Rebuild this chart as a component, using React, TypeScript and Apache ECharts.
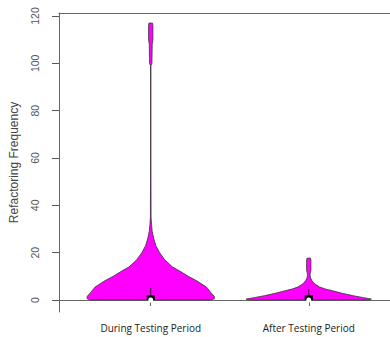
import React, { useEffect, useRef } from "react";
import * as echarts from "echarts";

const categories = ["During Testing Period", "After Testing Period"];
const yTicks = [0, 20, 40, 60, 80, 100, 120];

// violin outlines: levels (frequency) and relative half widths (density, 1 = widest)
const duringLevels = [0, 0.5, 1.5, 3, 5.5, 8, 10, 12, 14, 17, 20, 23, 26, 29, 32, 35, 60, 99, 100, 102, 108, 110, 116, 117];
const duringWidths = [0.94, 1, 1, 0.95, 0.875, 0.73, 0.59, 0.47, 0.34, 0.22, 0.14, 0.08, 0.047, 0.023, 0.0125, 0.005, 0.003, 0.003, 0.019, 0.02, 0.023, 0.034, 0.034, 0.028];
const afterLevels = [0, 0.4, 1, 1.8, 2.8, 3.8, 4.6, 5.5, 6.4, 7.2, 8.3, 9.3, 10.5, 11.5, 12.5, 17, 17.7];
const afterWidths = [0.94, 0.985, 0.86, 0.7, 0.53, 0.39, 0.265, 0.17, 0.117, 0.078, 0.047, 0.028, 0.02, 0.025, 0.034, 0.034, 0.025];

// box statistics
const q1 = [0, 0];
const medians = [0, 0];
const q3 = [2, 2];
const upperWhiskers = [5, 4.6];

const levelsList = [duringLevels, afterLevels];
const widthsList = [duringWidths, afterWidths];

export default function App() {
  const ref = useRef<HTMLDivElement>(null);
  useEffect(() => {
    if (!ref.current) return;
    const chart = echarts.init(ref.current, null, { renderer: "svg" });
    const maxHalf = 0.4025;
    const boxHalf = 0.026;
    const xMin = 0.4195;
    const xMax = 2.514;
    chart.setOption({
      animation: false,
      backgroundColor: "#ffffff",
      grid: {
        left: 57,
        top: 13,
        right: 0,
        bottom: 25,
        show: false,
      },
      xAxis: [
        {
          type: "value",
          min: xMin,
          max: xMax,
          splitLine: { show: false },
          axisLine: { show: true, lineStyle: { color: "#666", width: 1 } },
          axisTick: { show: true, customValues: [1, 2], length: 6, lineStyle: { color: "#666" } },
          axisLabel: {
            customValues: [1, 2],
            formatter: (v: number) => categories[Math.round(v) - 1] ?? "",
            fontFamily: "Open Sans",
            fontSize: 10,
            color: "#222",
            margin: 11,
          },
        },
        {
          type: "value",
          position: "top",
          min: xMin,
          max: xMax,
          splitLine: { show: false },
          axisLine: { show: true, onZero: false, lineStyle: { color: "#666", width: 1 } },
          axisTick: { show: false },
          axisLabel: { show: false },
        },
      ],
      yAxis: {
        type: "value",
        min: -5.07,
        max: 121.27,
        splitLine: { show: false },
        axisLine: { show: true, onZero: false, lineStyle: { color: "#666", width: 1 } },
        axisTick: { show: true, customValues: yTicks, length: 7, lineStyle: { color: "#555" } },
        axisLabel: {
          customValues: yTicks,
          rotate: 90,
          fontFamily: "Liberation Sans",
          fontSize: 10.5,
          color: "#555",
          margin: 19,
        },
        name: "Refactoring Frequency",
        nameLocation: "middle",
        nameRotate: 90,
        nameGap: 39,
        nameTextStyle: { fontFamily: "Liberation Sans", fontSize: 12, color: "#444" },
      },
      series: [
        {
          type: "custom",
          xAxisIndex: 0,
          data: categories.map((_, i) => [i + 1, medians[i]]),
          encode: { x: 0, y: 1 },
          clip: false,
          renderItem: (params: any, api: any) => {
            const i = params.dataIndex;
            const c = i + 1;
            const lv = levelsList[i];
            const wd = widthsList[i];
            const left: number[][] = [];
            const right: number[][] = [];
            for (let k = 0; k < lv.length; k++) {
              left.push(api.coord([c - wd[k] * maxHalf, lv[k]]));
              right.push(api.coord([c + wd[k] * maxHalf, lv[k]]));
            }
            const pts = left.concat(right.reverse());
            const bTop = api.coord([c - boxHalf, q3[i]]);
            const bBot = api.coord([c + boxHalf, q1[i]]);
            const wTop = api.coord([c, upperWhiskers[i]]);
            const med = api.coord([c, medians[i]]);
            return {
              type: "group",
              children: [
                {
                  type: "polygon",
                  shape: { points: pts },
                  style: { fill: "#ff00ff", stroke: "#333", lineWidth: 0.8 },
                },
                {
                  type: "line",
                  shape: { x1: wTop[0], y1: wTop[1], x2: wTop[0], y2: bTop[1] },
                  style: { stroke: "#222", lineWidth: 1 },
                },
                {
                  type: "rect",
                  shape: { x: bTop[0], y: bTop[1], width: bBot[0] - bTop[0], height: bBot[1] - bTop[1] },
                  style: { fill: "#000" },
                },
                {
                  type: "circle",
                  shape: { cx: med[0], cy: med[1], r: 2.5 },
                  style: { fill: "#fff" },
                },
              ],
            };
          },
        },
      ],
    });
    return () => chart.dispose();
  }, []);
  return <div ref={ref} style={{ position: "fixed", left: 0, top: 0, width: 390, height: 337 }} />;
}
